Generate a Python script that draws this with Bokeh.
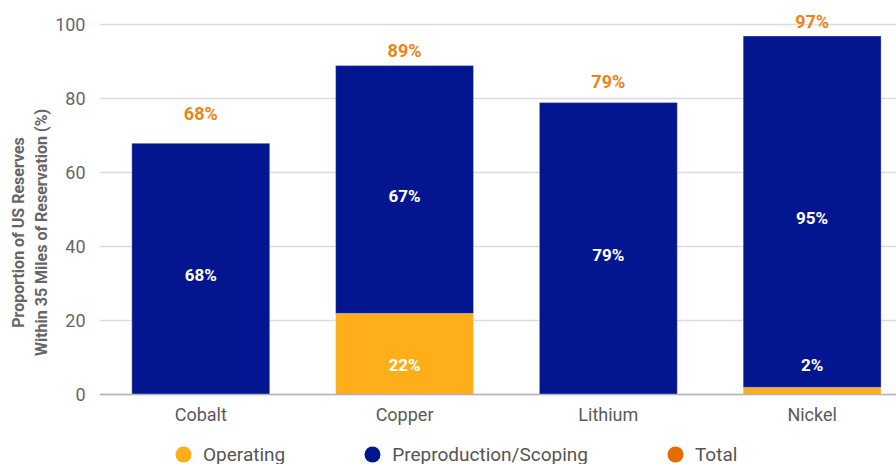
from bokeh.plotting import figure
from bokeh.models import ColumnDataSource, Range1d, FixedTicker, Legend, LegendItem, LinearAxis
from bokeh.embed import file_html
from bokeh.resources import INLINE
from bokeh.core.properties import value

# ---- data ----
categories = ["Cobalt", "Copper", "Lithium", "Nickel"]
operating = [0, 22, 0, 2]
preproduction = [68, 67, 79, 95]
total = [68, 89, 79, 97]
y_ticks = [0, 20, 40, 60, 80, 100]

# ---- styling ----
C_OP = "#FDAE18"
C_PRE = "#04168F"
C_TOT_TXT = "#EE8316"
C_TOT_LEG = "#E56C00"
FONT = "Roboto"
total_label_lift_px = [30, 15, 21, 15]   # label placement above bar top
op_label_y = 8                             # label height for operating values

xs = list(range(len(categories)))
op_top = operating
pre_bottom = operating
pre_top = [o + p for o, p in zip(operating, preproduction)]

p = figure(frame_width=797, frame_height=464, output_backend="svg",
           toolbar_location=None, x_range=Range1d(-0.497, 3.414),
           y_range=Range1d(-18.84, 106.6), x_axis_location=None,
           min_border_left=99, min_border_right=0, min_border_top=0,
           min_border_bottom=0)
p.outline_line_color = None
p.background_fill_color = "white"
p.border_fill_color = "white"

src = ColumnDataSource(dict(x=xs, op_top=op_top, pre_bottom=pre_bottom,
                            pre_top=pre_top))
p.vbar(x="x", width=0.677, bottom=0, top="op_top", source=src,
       fill_color=C_OP, line_color="white", line_alpha=0.35, line_width=1)
p.vbar(x="x", width=0.677, bottom="pre_bottom", top="pre_top", source=src,
       fill_color=C_PRE, line_color="white", line_alpha=0.35, line_width=1)

# inner labels - preproduction
pre_mid = [o + pr / 2 for o, pr in zip(operating, preproduction)]
p.text(x=xs, y=pre_mid, text=[f"{v}%" for v in preproduction],
       text_color="white", text_font=value(FONT), text_font_style="bold",
       text_font_size="17px", text_align="center", text_baseline="middle",
       y_offset=6)
# inner labels - operating (only non-zero)
op_x = [x for x, o in zip(xs, operating) if o > 0]
op_txt = [f"{o}%" for o in operating if o > 0]
p.text(x=op_x, y=[op_label_y] * len(op_x), text=op_txt,
       text_color="white", text_font=value(FONT), text_font_style="bold",
       text_font_size="17px", text_align="center", text_baseline="middle")
# total labels
p.text(x=xs, y=total, text=[f"{t}%" for t in total],
       text_color=C_TOT_TXT, text_font=value(FONT), text_font_style="bold",
       text_font_size="18px", text_align="center", text_baseline="middle",
       y_offset=[-d for d in total_label_lift_px])

# x axis placed at value 0
xaxis = LinearAxis(fixed_location=0)
xaxis.ticker = FixedTicker(ticks=xs)
xaxis.major_label_overrides = {i: c for i, c in zip(xs, categories)}
xaxis.major_label_text_font = FONT
xaxis.major_label_text_font_size = "18px"
xaxis.major_label_text_color = "#5a5a5a"
xaxis.major_tick_line_color = None
xaxis.minor_tick_line_color = None
xaxis.axis_line_color = "#b4b4bc"
xaxis.axis_line_width = 1.5
xaxis.major_label_standoff = 3
p.add_layout(xaxis, "below")

p.yaxis.ticker = FixedTicker(ticks=y_ticks)
p.yaxis.major_label_text_font = FONT
p.yaxis.major_label_text_font_size = "18px"
p.yaxis.major_label_text_color = "#666666"
p.yaxis.major_tick_line_color = None
p.yaxis.minor_tick_line_color = None
p.yaxis.axis_line_color = None
p.yaxis.major_label_standoff = 8
p.yaxis.axis_label = "Proportion of US Reserves\nWithin 35 Miles of Reservation (%)"
p.yaxis.axis_label_text_font = FONT
p.yaxis.axis_label_text_font_style = "bold"
p.yaxis.axis_label_text_font_size = "16px"
p.yaxis.axis_label_text_color = "#666666"
p.yaxis.axis_label_standoff = 1

p.xgrid.grid_line_color = None
p.ygrid.ticker = FixedTicker(ticks=y_ticks)
p.ygrid.grid_line_color = "#dcdcdc"
p.ygrid.grid_line_width = 1.3

# legend with circle markers
r_op = p.scatter(x=[0], y=[-100], marker="circle", size=16, fill_color=C_OP, line_color=None)
r_pre = p.scatter(x=[0], y=[-100], marker="circle", size=16, fill_color=C_PRE, line_color=None)
r_tot = p.scatter(x=[0], y=[-100], marker="circle", size=16, fill_color=C_TOT_LEG, line_color=None)
legend = Legend(items=[LegendItem(label="Operating", renderers=[r_op]),
                       LegendItem(label="Preproduction/Scoping", renderers=[r_pre]),
                       LegendItem(label="Total", renderers=[r_tot])],
                orientation="horizontal", location=(64, -10),
                label_text_font=FONT, label_text_font_size="19px",
                label_text_color="#555555", glyph_width=40, glyph_height=40,
                label_standoff=0, spacing=67, padding=0, margin=0,
                border_line_alpha=0, background_fill_alpha=0,
                label_height=20)
p.add_layout(legend, "center")

open("out.html", "w").write(file_html(p, INLINE))
